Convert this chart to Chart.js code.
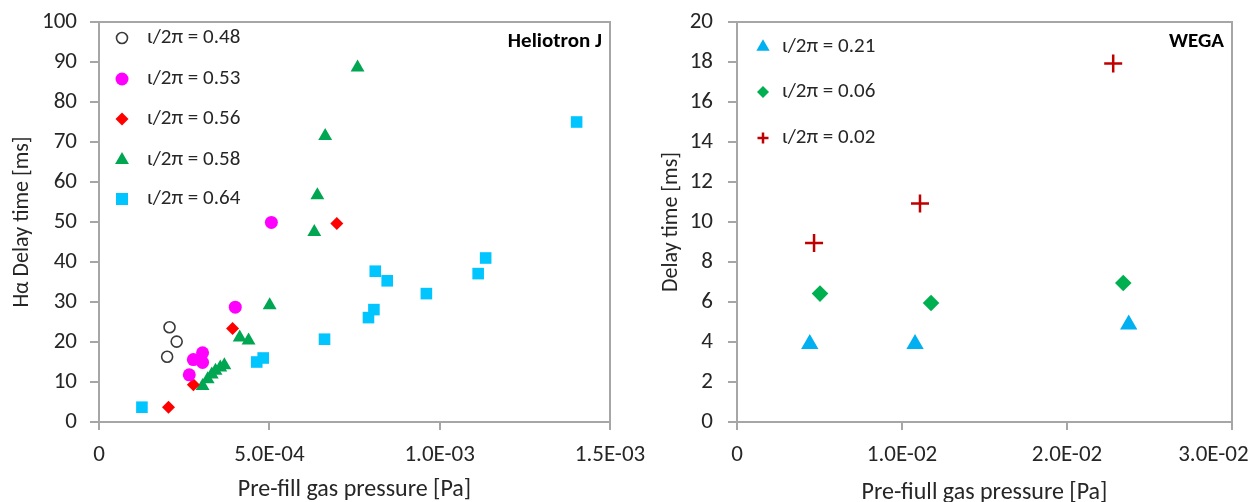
<!DOCTYPE html>
<html>
<head>
<meta charset="utf-8">
<title>Delay time vs pre-fill gas pressure</title>
<script src="https://cdn.jsdelivr.net/npm/chart.js@4.4.1/dist/chart.umd.min.js"></script>
<style>
  body { margin: 0; background: #fff; }
  #wrap { position: relative; width: 1253px; height: 502px; overflow: hidden; }
  canvas { position: absolute; top: 0; }
</style>
</head>
<body>
<div id="wrap">
  <canvas id="heliotronChart" width="680" height="502" style="left:0"></canvas>
  <canvas id="wegaChart" width="633" height="502" style="left:620px"></canvas>
</div>
<script>
// ---- Heliotron J (pressure [Pa], delay [ms]) ----
const hj048P = [2.07e-4, 2.28e-4, 2.00e-4];
const hj048D = [23.7, 20.1, 16.3];
const hj053P = [5.06e-4, 4.00e-4, 3.04e-4, 2.77e-4, 3.04e-4, 2.65e-4];
const hj053D = [49.9, 28.7, 17.3, 15.6, 14.9, 11.8];
const hj056P = [2.04e-4, 2.77e-4, 3.92e-4, 6.98e-4];
const hj056D = [3.7, 9.3, 23.4, 49.6];
const hj058P = [3.04e-4, 3.19e-4, 3.31e-4, 3.42e-4, 3.56e-4, 3.68e-4, 4.13e-4, 4.39e-4, 5.01e-4, 6.32e-4, 6.41e-4, 6.64e-4, 7.59e-4];
const hj058D = [9.0, 10.7, 11.9, 12.8, 13.6, 14.2, 21.1, 20.4, 29.2, 47.5, 56.7, 71.5, 88.6];
const hj064P = [1.26e-4, 4.63e-4, 4.82e-4, 6.62e-4, 7.91e-4, 8.07e-4, 8.11e-4, 8.46e-4, 9.61e-4, 1.113e-3, 1.135e-3, 1.402e-3];
const hj064D = [3.7, 15.0, 16.0, 20.7, 26.1, 28.1, 37.7, 35.3, 32.1, 37.1, 41.0, 75.0];

// ---- WEGA ----
const wega021P = [0.00441, 0.01079, 0.02374];
const wega021D = [3.9, 3.9, 4.87];
const wega006P = [0.00503, 0.01176, 0.02341];
const wega006D = [6.42, 5.95, 6.95];
const wega002P = [0.00467, 0.01109, 0.0228];
const wega002D = [8.95, 10.93, 17.93];

// axis ranges and steps
const hjXMax = 1.5e-3, hjXStep = 5e-4, hjYMax = 100, hjYStep = 10;
const wegaXMax = 3e-2, wegaXStep = 1e-2, wegaYMax = 20, wegaYStep = 2;

const FONT = 'Carlito, Lato, "Open Sans", sans-serif';
const AXIS_GRAY = '#A6A6A6';
const TEXT = '#262626';

function pts(xs, ys) {
    return xs.map((x, i) => ({ x: x, y: ys[i] }));
}

// Excel style labels: 0, 5.0E-04 ...
function sciTick(value) {
    if (Math.abs(value) < 1e-12) return '0';
    const parts = value.toExponential(1).split('e');
    const n = parseInt(parts[1], 10);
    return parts[0] + 'E' + (n < 0 ? '-' : '+') + String(Math.abs(n)).padStart(2, '0');
}

function drawMarker(ctx, style, x, y, r, fill, stroke, lw) {
    ctx.save();
    ctx.beginPath();
    if (style === 'circle') {
        ctx.arc(x, y, r, 0, Math.PI * 2);
    } else if (style === 'rect') {
        const s = r * Math.SQRT1_2;
        ctx.rect(x - s, y - s, 2 * s, 2 * s);
    } else if (style === 'rectRot') {
        ctx.moveTo(x - r, y); ctx.lineTo(x, y - r); ctx.lineTo(x + r, y); ctx.lineTo(x, y + r);
        ctx.closePath();
    } else if (style === 'triangle') {
        const c = Math.cos(Math.PI / 6) * r;
        ctx.moveTo(x, y - r); ctx.lineTo(x + c, y + r / 2); ctx.lineTo(x - c, y + r / 2);
        ctx.closePath();
    } else if (style === 'cross') {
        ctx.moveTo(x, y - r); ctx.lineTo(x, y + r);
        ctx.moveTo(x - r, y); ctx.lineTo(x + r, y);
    }
    if (fill && style !== 'cross') { ctx.fillStyle = fill; ctx.fill(); }
    if (stroke && lw > 0) { ctx.strokeStyle = stroke; ctx.lineWidth = lw; ctx.stroke(); }
    ctx.restore();
}

// frame on top/right, in-plot legend and the machine label
const overlayPlugin = {
    id: 'overlay',
    afterDraw(chart, args, opts) {
        const ctx = chart.ctx;
        const a = chart.chartArea;
        ctx.save();
        ctx.strokeStyle = AXIS_GRAY;
        ctx.lineWidth = 2;
        ctx.beginPath();
        ctx.moveTo(a.left, a.top);
        ctx.lineTo(a.right, a.top);
        ctx.lineTo(a.right, a.bottom);
        ctx.stroke();

        ctx.font = 'bold ' + opts.labelSize + 'px ' + FONT;
        ctx.fillStyle = '#000';
        ctx.textAlign = 'right';
        ctx.textBaseline = 'middle';
        ctx.fillText(opts.label, a.right - 8, 42);

        ctx.font = '21px ' + FONT;
        ctx.fillStyle = TEXT;
        ctx.textAlign = 'left';
        opts.items.forEach((it, i) => {
            const ds = chart.data.datasets[i];
            const y = opts.rowY[i];
            drawMarker(ctx, ds.pointStyle, opts.markerX, y, it,
                ds.backgroundColor, ds.borderColor, ds.pointBorderWidth || ds.borderWidth);
            ctx.fillText(ds.label, opts.textX, y);
        });
        ctx.restore();
    }
};

function makeScales(cfg) {
    return {
        x: {
            type: 'linear',
            min: 0,
            max: cfg.xMax,
            afterFit: s => { s.height = 80; s.paddingLeft = 0; s.paddingRight = 0; },
            afterBuildTicks: s => { s.ticks = s.ticks.filter(t => t.value <= cfg.xMax * 1.0001); },
            ticks: {
                stepSize: cfg.xStep,
                font: { family: FONT, size: 23 },
                color: TEXT,
                padding: 11,
                maxRotation: 0,
                callback: v => {
                    const txt = sciTick(v);
                    // last label sits inside the page edge, like the original
                    return (cfg.lastPad && Math.abs(v - cfg.xMax) < 1e-9) ? txt + cfg.lastPad : txt;
                }
            },
            grid: { display: true, drawOnChartArea: false, drawTicks: true, tickLength: 8, color: AXIS_GRAY, lineWidth: 2 },
            border: { display: true, color: AXIS_GRAY, width: 2 },
            title: {
                display: true,
                text: cfg.xTitle,
                font: { family: FONT, size: 24 },
                color: TEXT,
                padding: { top: 0, bottom: cfg.xTitlePad }
            }
        },
        y: {
            type: 'linear',
            min: 0,
            max: cfg.yMax,
            afterFit: s => { s.width = cfg.yWidth; s.paddingTop = 0; s.paddingBottom = 0; },
            ticks: {
                stepSize: cfg.yStep,
                font: { family: FONT, size: 23 },
                color: TEXT,
                padding: cfg.yTickPad
            },
            grid: { display: true, drawOnChartArea: false, drawTicks: true, tickLength: 9, color: AXIS_GRAY, lineWidth: 2 },
            border: { display: true, color: AXIS_GRAY, width: 2 },
            title: {
                display: true,
                text: cfg.yTitle,
                font: { family: FONT, size: 22 },
                color: TEXT,
                padding: { top: cfg.yTitlePad, bottom: 0 }
            }
        }
    };
}

function scatterSet(label, data, style, radius, fill, stroke, bw) {
    return {
        label: label,
        data: data,
        showLine: false,
        pointStyle: style,
        pointRadius: radius,
        pointHoverRadius: radius,
        backgroundColor: fill,
        borderColor: stroke,
        pointBorderWidth: bw,
        borderWidth: bw
    };
}

new Chart(document.getElementById('heliotronChart'), {
    type: 'scatter',
    data: {
        datasets: [
            scatterSet('\u03b9/2\u03c0 = 0.48', pts(hj048P, hj048D), 'circle', 5.5, 'rgba(255,255,255,0)', '#3A3A3A', 1.6),
            scatterSet('\u03b9/2\u03c0 = 0.53', pts(hj053P, hj053D), 'circle', 6.5, '#FF00FF', '#FF00FF', 0),
            scatterSet('\u03b9/2\u03c0 = 0.56', pts(hj056P, hj056D), 'rectRot', 6.5, '#FF0000', '#FF0000', 0),
            scatterSet('\u03b9/2\u03c0 = 0.58', pts(hj058P, hj058D), 'triangle', 8, '#00A651', '#00A651', 0),
            scatterSet('\u03b9/2\u03c0 = 0.64', pts(hj064P, hj064D), 'rect', 8.2, '#00C5FF', '#00C5FF', 0)
        ]
    },
    options: {
        responsive: false,
        animation: false,
        layout: { padding: { top: 22, right: 70, left: 0, bottom: 0 } },
        scales: makeScales({
            xMax: hjXMax, xStep: hjXStep, yMax: hjYMax, yStep: hjYStep,
            xTitle: 'Pre-fill gas pressure [Pa]',
            yTitle: 'H\u03b1 Delay time [ms]',
            yWidth: 99, yTickPad: 13, yTitlePad: 9, xTitlePad: -2, lastPad: ''
        }),
        plugins: {
            legend: { display: false },
            tooltip: { enabled: false },
            overlay: {
                label: 'Heliotron J', labelSize: 21,
                items: [5.5, 6.5, 6.5, 8, 8.5],
                rowY: [38, 79, 119, 160, 199],
                markerX: 122, textX: 147
            }
        }
    },
    plugins: [overlayPlugin]
});

new Chart(document.getElementById('wegaChart'), {
    type: 'scatter',
    data: {
        datasets: [
            scatterSet('\u03b9/2\u03c0 = 0.21', pts(wega021P, wega021D), 'triangle', 10, '#00B0F0', '#00B0F0', 0),
            scatterSet('\u03b9/2\u03c0 = 0.06', pts(wega006P, wega006D), 'rectRot', 8.3, '#00B050', '#00B050', 0),
            scatterSet('\u03b9/2\u03c0 = 0.02', pts(wega002P, wega002D), 'cross', 9, '#C00000', '#C00000', 2.5)
        ]
    },
    options: {
        responsive: false,
        animation: false,
        layout: { padding: { top: 22, right: 21, left: 0, bottom: 0 } },
        scales: makeScales({
            xMax: wegaXMax, xStep: wegaXStep, yMax: wegaYMax, yStep: wegaYStep,
            xTitle: 'Pre-fiull gas pressure [Pa]',
            yTitle: 'Delay time [ms]',
            yWidth: 117, yTickPad: 15, yTitlePad: 38, xTitlePad: -5,
            lastPad: '\u2007\u2007\u2007'
        }),
        plugins: {
            legend: { display: false },
            tooltip: { enabled: false },
            overlay: {
                label: 'WEGA', labelSize: 21,
                items: [7.7, 6, 5.5],
                rowY: [47, 92, 138],
                markerX: 143, textX: 162
            }
        }
    },
    plugins: [overlayPlugin]
});
</script>
</body>
</html>
